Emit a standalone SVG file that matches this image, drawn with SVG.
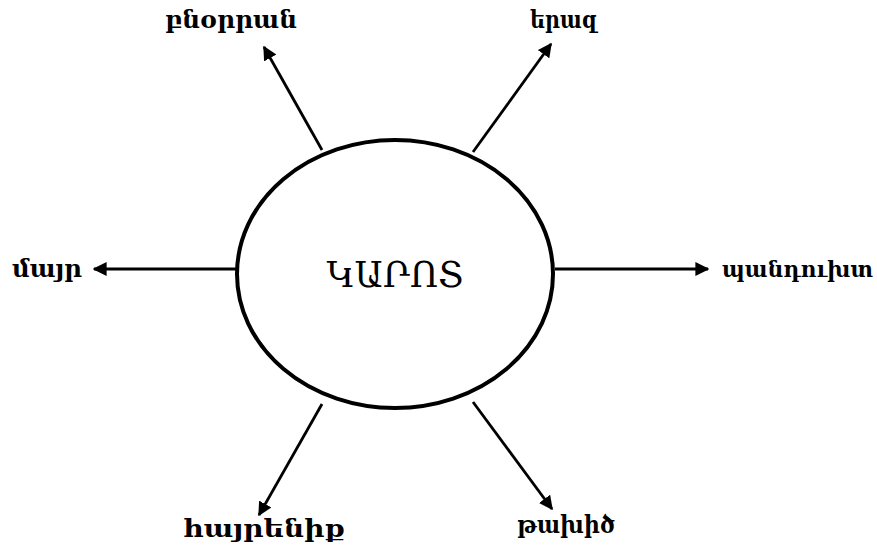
<svg xmlns="http://www.w3.org/2000/svg" width="877" height="553" viewBox="0 0 877 553">
<defs>
<marker id="ah" viewBox="0 0 10 10" refX="9" refY="5" markerWidth="5" markerHeight="5" orient="auto" markerUnits="strokeWidth">
<path d="M0,0 L10,5 L0,10 z" fill="#000"/>
</marker>
<style>
.lbl{font-family:"DejaVu Serif","Noto Serif",serif;font-weight:bold;font-size:24px;fill:#000}
.ctr{font-family:"DejaVu Serif","Noto Serif",serif;font-size:35px;fill:#000}
.arr{stroke:#000;stroke-width:2.8;fill:none;marker-end:url(#ah)}
</style>
</defs>
<rect width="877" height="553" fill="#fff"/>
<g id="connectors">
<line class="arr" x1="322" y1="150" x2="264" y2="47"/>
<line class="arr" x1="473" y1="152" x2="551" y2="44"/>
<line class="arr" x1="237" y1="269" x2="94" y2="269"/>
<line class="arr" x1="555" y1="269" x2="708" y2="269"/>
<line class="arr" x1="322" y1="404" x2="259" y2="515"/>
<line class="arr" x1="473" y1="402" x2="552" y2="509"/>
</g>
<g id="center">
<ellipse cx="395" cy="274" rx="158" ry="134" fill="#fff" stroke="#000" stroke-width="4"/>
<text class="ctr" x="395" y="287" text-anchor="middle">ԿԱՐՈՏ</text>
</g>
<g id="n-bnorran"><text class="lbl" x="165" y="28" textLength="132" lengthAdjust="spacingAndGlyphs">բնօրրան</text></g>
<g id="n-eraz"><text class="lbl" x="530" y="28" textLength="67" lengthAdjust="spacingAndGlyphs">երազ</text></g>
<g id="n-mayr"><text class="lbl" x="12" y="277" textLength="70" lengthAdjust="spacingAndGlyphs">մայր</text></g>
<g id="n-pandukht"><text class="lbl" x="722" y="277" style="font-size:21.5px" textLength="151" lengthAdjust="spacingAndGlyphs">պանդուխտ</text></g>
<g id="n-hayrenik"><text class="lbl" x="183" y="537" textLength="162" lengthAdjust="spacingAndGlyphs">հայրենիք</text></g>
<g id="n-takhits"><text class="lbl" x="517" y="533" textLength="98" lengthAdjust="spacingAndGlyphs">թախիծ</text></g>
</svg>
